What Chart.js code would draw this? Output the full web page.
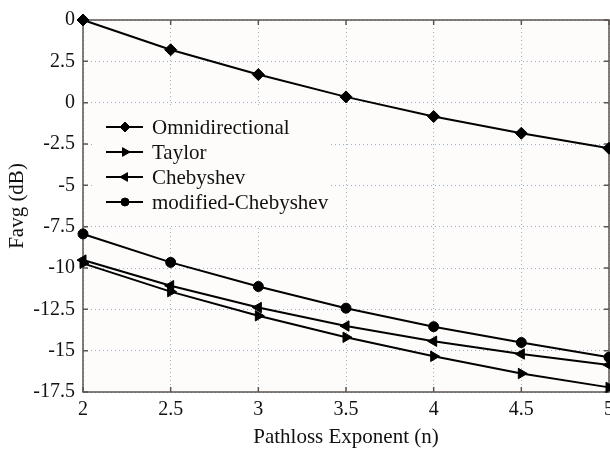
<!DOCTYPE html>
<html>
<head>
<meta charset="utf-8">
<script src="https://cdn.jsdelivr.net/npm/chart.js@4.4.0/dist/chart.umd.min.js"></script>
<style>
  html, body { margin: 0; padding: 0; background: #fff; overflow: hidden; }
  #wrap { width: 620px; height: 452px; }
</style>
</head>
<body>
<div id="wrap"><canvas id="favgChart" width="620" height="452"></canvas></div>
<script>
// values
const pathlossExp = [2, 2.5, 3, 3.5, 4, 4.5, 5];
const omniValues = [5, 3.2, 1.7, 0.35, -0.84, -1.85, -2.76];
const taylorValues = [-9.72, -11.43, -12.89, -14.19, -15.34, -16.38, -17.22];
const chebValues = [-9.52, -11.07, -12.39, -13.51, -14.43, -15.2, -15.86];
const modChebValues = [-7.94, -9.66, -11.12, -12.43, -13.55, -14.51, -15.4];
const seriesNames = ['Omnidirectional', 'Taylor', 'Chebyshev', 'modified-Chebyshev'];
const yTickValues = [-17.5, -15, -12.5, -10, -7.5, -5, -2.5, 0, 2.5, 5];
const yTickLabels = ['-17.5', '-15', '-12.5', '-10', '-7.5', '-5', '-2.5', '0', '2.5', '0'];
const xTickValues = [2, 2.5, 3, 3.5, 4, 4.5, 5];

const FONT = 'Liberation Serif, "Times New Roman", serif';
const AXIS_COLOR = '#5b5450';
const GRID_COLOR = '#9db2c6';

function toPoints(vals) {
  return vals.map((v, i) => ({ x: pathlossExp[i], y: v }));
}

function makeSet(label, vals, style, rot, radius) {
  return {
    label: label,
    data: toPoints(vals),
    borderColor: '#000',
    backgroundColor: '#000',
    borderWidth: 2,
    pointStyle: style,
    rotation: rot,
    pointRadius: radius,
    pointBorderWidth: 1,
    pointBackgroundColor: '#000',
    pointBorderColor: '#000',
    tension: 0,
    clip: false
  };
}

// рамка вокруг графика + внутренние засечки
const framePlugin = {
  id: 'frame',
  beforeDraw(chart) {
    const { ctx, chartArea: a } = chart;
    ctx.save();
    ctx.fillStyle = '#fdfcfa';
    ctx.fillRect(a.left, a.top, a.right - a.left, a.bottom - a.top);
    ctx.restore();
  },
  beforeDatasetsDraw(chart) {
    const { ctx, chartArea: a, scales } = chart;
    ctx.save();
    ctx.strokeStyle = AXIS_COLOR;
    ctx.lineWidth = 1.5;
    ctx.strokeRect(a.left, a.top, a.right - a.left, a.bottom - a.top);
    ctx.beginPath();
    xTickValues.forEach(v => {
      const px = scales.x.getPixelForValue(v);
      ctx.moveTo(px, a.bottom); ctx.lineTo(px, a.bottom - 5);
      ctx.moveTo(px, a.top); ctx.lineTo(px, a.top + 5);
    });
    yTickValues.forEach(v => {
      const py = scales.y.getPixelForValue(v);
      ctx.moveTo(a.left, py); ctx.lineTo(a.left + 5, py);
      ctx.moveTo(a.right, py); ctx.lineTo(a.right - 5, py);
    });
    ctx.stroke();
    ctx.restore();
  }
};

// легенда внутри области графика
const legendPlugin = {
  id: 'innerLegend',
  afterDraw(chart) {
    const { ctx, chartArea: a } = chart;
    const lx = a.left + 12;
    const ly = a.top + 86;
    ctx.save();
    ctx.fillStyle = '#fdfcfa';
    ctx.fillRect(lx, ly, 236, 120);
    chart.data.datasets.forEach((ds, i) => {
      const y = ly + 21 + i * 25;
      ctx.strokeStyle = '#000';
      ctx.lineWidth = 2;
      ctx.beginPath();
      ctx.moveTo(lx + 11, y);
      ctx.lineTo(lx + 48, y);
      ctx.stroke();
      ctx.fillStyle = '#000';
      ctx.lineWidth = 1;
      Chart.helpers.drawPoint(ctx, {
        pointStyle: ds.pointStyle,
        rotation: ds.rotation,
        radius: ds.pointRadius - 1,
        borderWidth: 1
      }, lx + 30, y);
      ctx.fillStyle = '#111';
      ctx.font = '21px ' + FONT;
      ctx.textAlign = 'left';
      ctx.textBaseline = 'middle';
      ctx.fillText(ds.label, lx + 57, y + 1);
    });
    ctx.restore();
  }
};

const ctx = document.getElementById('favgChart').getContext('2d');
const favgChart = new Chart(ctx, {
  type: 'line',
  data: {
    datasets: [
      makeSet(seriesNames[0], omniValues, 'rectRot', 0, 6),
      makeSet(seriesNames[1], taylorValues, 'triangle', 90, 6),
      makeSet(seriesNames[2], chebValues, 'triangle', 270, 6),
      makeSet(seriesNames[3], modChebValues, 'circle', 0, 5)
    ]
  },
  options: {
    responsive: false,
    animation: false,
    layout: { padding: { top: 18, right: 11, left: 0, bottom: 0 } },
    plugins: {
      legend: { display: false },
      tooltip: { enabled: false }
    },
    scales: {
      x: {
        type: 'linear',
        min: 2,
        max: 5,
        afterBuildTicks: s => { s.ticks = xTickValues.map(v => ({ value: v })); },
        afterFit: s => { s.height = 60; },
        ticks: {
          color: '#111',
          font: { family: FONT, size: 20 },
          padding: 6,
          maxRotation: 0,
          callback: v => String(v)
        },
        grid: { color: GRID_COLOR, lineWidth: 1, drawTicks: false },
        border: { display: false, dash: [1, 3] },
        title: {
          display: true,
          text: 'Pathloss Exponent (n)',
          color: '#111',
          font: { family: FONT, size: 21 },
          padding: { top: 0, bottom: 2 }
        }
      },
      y: {
        type: 'linear',
        min: -17.5,
        max: 5,
        afterBuildTicks: s => { s.ticks = yTickValues.map(v => ({ value: v })); },
        afterFit: s => { s.width = 83; },
        ticks: {
          color: '#111',
          font: { family: FONT, size: 20 },
          padding: 8,
          callback: v => yTickLabels[yTickValues.indexOf(v)]
        },
        grid: { color: GRID_COLOR, lineWidth: 1, drawTicks: false },
        border: { display: false, dash: [1, 3] },
        title: {
          display: true,
          text: 'Favg (dB)',
          color: '#111',
          font: { family: FONT, size: 21 },
          padding: { top: 5, bottom: 0 }
        }
      }
    }
  },
  plugins: [framePlugin, legendPlugin]
});
</script>
</body>
</html>
